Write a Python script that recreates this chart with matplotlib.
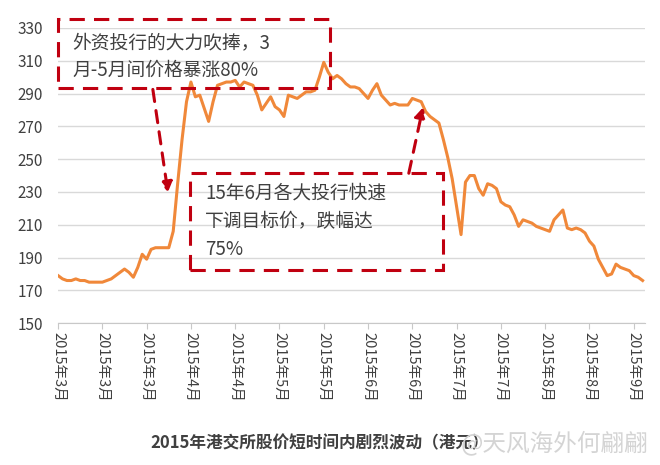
import matplotlib.pyplot as plt
from matplotlib.patches import Rectangle

plt.rcParams['font.family'] = ['Noto Sans CJK SC', 'DejaVu Sans']

# daily HKEX share price, Mar - Sep 2015 (HKD)
prices = [
    179, 177, 176, 176, 177, 176, 176, 175, 175, 175,
    175, 176, 177, 179, 181, 183, 181, 178, 184, 192,
    189, 195, 196, 196, 196, 196, 206, 235, 262, 285,
    297, 288, 289, 281, 273, 285, 295, 296, 297, 297,
    298, 294, 297, 296, 295, 289, 280, 284, 288, 282,
    280, 276, 289, 288, 287, 289, 291, 291, 292, 300,
    309, 303, 299, 301, 299, 296, 294, 294, 293, 290,
    287, 292, 296, 289, 286, 283, 284, 283, 283, 283,
    287, 286, 285, 279, 276, 274, 272, 262, 251, 238,
    221, 204, 236, 240, 240, 232, 228, 235, 234, 232,
    224, 222, 221, 216, 209, 213, 212, 211, 209, 208,
    207, 206, 213, 216, 219, 208, 207, 208, 207, 205,
    200, 197, 189, 184, 179, 180, 186, 184, 183, 182,
    179, 178, 176,
]
tick_labels = ["2015年3月", "2015年3月", "2015年3月", "2015年4月", "2015年4月",
               "2015年5月", "2015年5月", "2015年6月", "2015年6月", "2015年7月",
               "2015年7月", "2015年8月", "2015年8月", "2015年9月"]
y_ticks = list(range(150, 331, 20))

note_up = "外资投行的大力吹捧，3\n月-5月间价格暴涨80%"
note_down = "15年6月各大投行快速\n下调目标价，跌幅达\n75%"
title = "2015年港交所股价短时间内剧烈波动（港元）"
watermark = "@天风海外何翩翩"

red = "#c00010"
text_col = "#404040"

fig = plt.figure(figsize=(6.6, 4.65), dpi=100)
ax = fig.add_axes([0.088, 0.305, 0.889, 0.635])

days = list(range(len(prices)))
ax.plot(days, prices, color="#f0883a", lw=2.2, solid_joinstyle="round", zorder=3)

ax.set_ylim(150, 330)
ax.set_xlim(0, len(prices) - 0.5)
ax.set_yticks(y_ticks)
ax.yaxis.grid(True, color="#d9d9d9", lw=1)
ax.set_axisbelow(True)
ax.set_xticks(range(0, 10 * len(tick_labels), 10))
ax.set_xticklabels(tick_labels, rotation=-90, fontsize=10.5, color=text_col)
for s in ["top", "right", "left"]:
    ax.spines[s].set_visible(False)
ax.spines["bottom"].set_color("#c8c8c8")
ax.tick_params(axis="y", length=0, pad=11, labelsize=11, labelcolor=text_col)
ax.tick_params(axis="x", length=4, color="#c8c8c8", pad=2)

# annotation boxes
dash = (0, (5, 3))
ax.add_patch(Rectangle((0, 293.4), 61.4, 42.1, fill=False, ec=red, lw=2.2,
                       ls=dash, clip_on=False, zorder=4))
ax.add_patch(Rectangle((29.8, 182.2), 57.1, 59.2, fill=False, ec=red, lw=2.2,
                       ls=dash, clip_on=False, zorder=4))
ax.text(3.2, 327.5, note_up, fontsize=13.5, color=text_col, va="top",
        linespacing=1.45, zorder=5)
ax.text(33.2, 235.5, note_down, fontsize=13.5, color=text_col, va="top",
        linespacing=1.45, zorder=5)

arrow = dict(arrowstyle="-|>,head_length=0.6,head_width=0.35", color=red,
             lw=2.2, ls=(0, (4, 3)), shrinkA=0, shrinkB=0)
ax.annotate("", xy=(24.8, 229.8), xytext=(21.4, 292.5), arrowprops=arrow, zorder=5)
ax.annotate("", xy=(82.4, 281.5), xytext=(79.2, 241.4), arrowprops=arrow, zorder=5)

fig.text(0.485, 0.047, title, ha="center", va="center", fontsize=12,
         fontweight="bold", color=text_col)
fig.text(0.84, 0.047, watermark, ha="center", va="center", fontsize=17,
         color="#d4d4d4")

fig.savefig("out.png", dpi=100)
